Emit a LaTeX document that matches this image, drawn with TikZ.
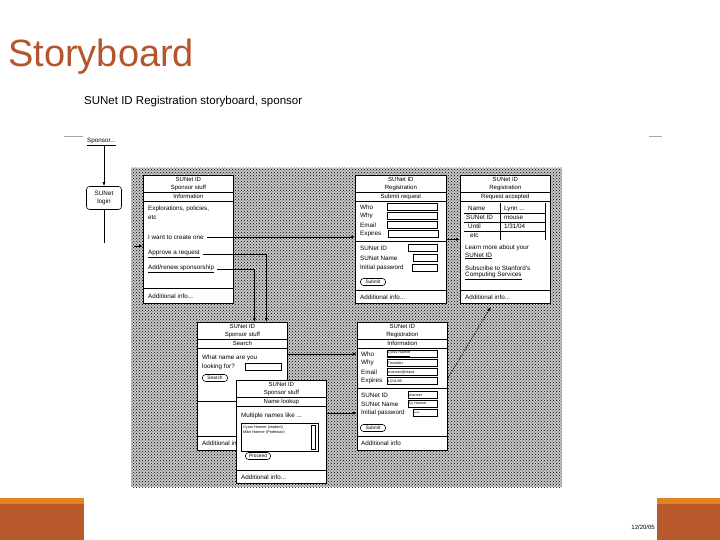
\documentclass[tikz,border=0pt]{standalone}
\usepackage{fontspec}
\setmainfont{Liberation Sans}
\usetikzlibrary{arrows.meta,patterns,positioning}

\definecolor{titlerust}{HTML}{B5552B}
\definecolor{barorange}{HTML}{E3821E}
\definecolor{barbrown}{HTML}{B95A2D}

\tikzset{
  panel/.style={draw, fill=white, line width=0.75pt, anchor=north west, inner sep=0pt},
  head/.style={font=\fontsize{6}{6.5}\selectfont, inner sep=0pt, text height=4.2pt, text depth=1.2pt},
  ptxt/.style={font=\fontsize{6.3}{7}\selectfont, inner sep=0pt, anchor=west},
  fieldbox/.style={draw, line width=0.55pt, anchor=west, inner sep=0.6pt, text width=#1,
    minimum height=6.5pt, align=left, font=\fontsize{3.6}{4}\selectfont},
  button/.style={draw, rounded corners=3pt, line width=0.55pt, inner sep=0.5pt,
    minimum width=25pt, minimum height=7pt, font=\fontsize{4.8}{5}\selectfont},
  link/.style={line width=0.65pt, -{Latex[length=4pt,width=3pt]}},
}

% three title lines and two rules at the top of a panel
\newcommand{\panelhead}[4]{%
  \node[head, below=2.3pt of #1.north] (#1h1) {#2};
  \node[head, below=1.6pt of #1h1] (#1h2) {#3};
  \node[head, below=3.3pt of #1h2] (#1h3) {#4};
  \draw ([yshift=1.6pt]#1h3.north -| #1.west) -- ([yshift=1.6pt]#1h3.north -| #1.east);
  \draw ([yshift=-1.8pt]#1h3.south -| #1.west) -- ([yshift=-1.8pt]#1h3.south -| #1.east);
}

\begin{document}
\begin{tikzpicture}[x=1pt, y=-1pt]
  \useasboundingbox (0,0) rectangle (720,540);

  % Slide title and footer
  \node[anchor=base west, inner sep=0pt, text=titlerust, font=\fontsize{38}{40}\selectfont] (title) at (8,67) {Storyboard};
  \fill[barorange] (0,498) rectangle (84,504);
  \fill[barbrown] (0,504) rectangle (84,540);
  \fill[barorange] (657,498) rectangle (720,504);
  \fill[barbrown] (657,504) rectangle (720,540);
  \node[anchor=east, inner sep=0pt, font=\fontsize{6}{7}\selectfont] (date) at (655,527) {12/20/05};

  % Page heading
  \node[anchor=base west, inner sep=0pt, font=\fontsize{11.5}{13}\selectfont] (subtitle) at (84,105) {SUNet ID Registration storyboard, sponsor};
  \draw[gray!70, line width=0.8pt] (64,136) -- (83,136);
  \draw[gray!70, line width=0.8pt] (649,136) -- (662,136);

  % Entry point
  \node[ptxt] (sponsor) at (87,142) {\underline{Sponsor...}};
  \node[draw, rounded corners=3pt, line width=0.6pt, minimum width=35pt, minimum height=23pt,
    align=center, inner sep=0pt, font=\fontsize{6.3}{7.5}\selectfont] (login) at (104,198) {SUNet\\login};
  \draw[link] (sponsor.south -| login.north) -- (login.north);
  \coordinate (loginend) at (104,243);
  \draw[line width=0.6pt] (login.south) -- (loginend);
  \coordinate (stub) at (134,246);

  % Dotted page background
  \fill[black!22] (131,168) rectangle (562,487);
  \fill[pattern=crosshatch dots, pattern color=black] (131,168) rectangle (562,487);

  %% Panel A: sponsor information
  \node[panel, minimum width=90pt, minimum height=128pt] (pA) at (143,175) {};
  \panelhead{pA}{SUNet ID}{Sponsor stuff}{Information}
  \node[ptxt] (explA) at (148,209) {Explorations, policies,};
  \node[ptxt] (etcA) at (148,217) {etc};
  \node[ptxt] (iwant) at (148,237) {I want to create one};
  \node[ptxt] (approve) at (148,254) {\underline{Approve a request}};
  \node[ptxt] (addrenew) at (148,269) {\underline{Add/renew sponsorship}};
  \draw (pA.west |- 0,288) -- (pA.east |- 0,288);
  \node[ptxt] (addA) at (148,296) {Additional info...};
  \draw[link] (stub) -- (stub -| pA.west);

  %% Panel B: submit request
  \node[panel, minimum width=91pt, minimum height=128pt] (pB) at (355,175) {};
  \panelhead{pB}{SUNet ID}{Registration}{Submit request}
  \node[ptxt] (whoB) at (360,207) {Who};
  \node[ptxt] (whyB) at (360,216) {Why};
  \node[ptxt] (mailB) at (360,225) {Email};
  \node[ptxt] (expB) at (360,234) {Expires};
  \node[fieldbox=49pt] (whoBf) at (387,207) {};
  \node[fieldbox=49pt] (whyBf) at (387,216) {};
  \node[fieldbox=49pt] (mailBf) at (387,225) {};
  \node[fieldbox=49pt] (expBf) at (388,234) {};
  \draw (pB.west |- 0,241) -- (pB.east |- 0,241);
  \node[ptxt] (idB) at (360,248) {SUNet ID};
  \node[ptxt] (nameB) at (360,258) {SUNet Name};
  \node[ptxt] (pwB) at (360,268) {Initial password};
  \node[fieldbox=28pt] (idBf) at (408,248) {};
  \node[fieldbox=23pt] (nameBf) at (413,258) {};
  \node[fieldbox=24pt] (pwBf) at (412,268) {};
  \node[button] (submitB) at (373,282) {Submit};
  \draw (pB.west |- 0,290) -- (pB.east |- 0,290);
  \node[ptxt] (addB) at (360,297) {Additional info...};

  %% Panel D: request accepted
  \node[panel, minimum width=90pt, minimum height=128pt] (pD) at (460,175) {};
  \panelhead{pD}{SUNet ID}{Registration}{Request accepted}
  \draw (464,213) -- (545,213);
  \draw (464,222) -- (545,222);
  \draw (464,231) -- (545,231);
  \draw (500,203) -- (500,240);
  \draw (545,203) -- (545,240);
  \node[ptxt] (nameD) at (468,208.5) {Name};
  \node[ptxt] (idD) at (466,217.5) {SUNet ID};
  \node[ptxt] (untilD) at (468,226.5) {Until};
  \node[ptxt] (etcD) at (470,235.5) {etc};
  \node[ptxt] (nameDv) at (504,208.5) {Lynn ...};
  \node[ptxt] (idDv) at (504,217.5) {mouse};
  \node[ptxt] (untilDv) at (504,226.5) {1/31/04};
  \node[ptxt] (learnD) at (465,248) {Learn more about your};
  \node[ptxt] (learnD2) at (465,256) {\underline{SUNet ID}};
  \node[ptxt] (subD) at (465,268) {Subscribe to Stanford's};
  \node[ptxt] (subD2) at (465,276) {\underline{Computing Services}};
  \draw (pD.west |- 0,290) -- (pD.east |- 0,290);
  \node[ptxt] (addD) at (465,297) {Additional info...};

  %% Panel C: sponsor search
  \node[panel, minimum width=90pt, minimum height=128pt] (pC) at (197,322) {};
  \panelhead{pC}{SUNet ID}{Sponsor stuff}{Search}
  \node[ptxt] (whatC) at (202,358) {What name are you};
  \node[ptxt] (lookC) at (202,367) {looking for?};
  \node[fieldbox=35pt] (lookCf) at (245,367) {};
  \node[button] (searchC) at (215,378) {Search};
  \draw (pC.west |- 0,401) -- (pC.east |- 0,401);
  \draw (pC.west |- 0,436) -- (pC.east |- 0,436);
  \node[ptxt] (addC) at (202,443) {Additional info...};

  %% Panel E: name lookup
  \node[panel, minimum width=90pt, minimum height=103pt] (pE) at (236,380) {};
  \panelhead{pE}{SUNet ID}{Sponsor stuff}{Name lookup}
  \node[ptxt] (multE) at (241,416) {Multiple names like ...};
  \draw[line width=0.55pt] (241,423) rectangle (318,451);
  \draw[line width=0.55pt] (311,425) rectangle (315,449);
  \node[anchor=north west, inner sep=0pt, align=left, font=\fontsize{3.8}{5}\selectfont] (listE) at (243,425.5)
    {Cyrus Harmer (student)\\Mike Harmer (Professor)};
  \node[button] (proceedE) at (258,456) {Proceed};
  \draw (pE.west |- 0,470) -- (pE.east |- 0,470);
  \node[ptxt] (addE) at (241,477) {Additional info...};

  %% Panel F: registration information
  \node[panel, minimum width=90pt, minimum height=128pt] (pF) at (357,322) {};
  \panelhead{pF}{SUNet ID}{Registration}{Information}
  \node[ptxt] (whoF) at (361,354) {Who};
  \node[ptxt] (whyF) at (361,363) {Why};
  \node[ptxt] (mailF) at (361,372) {Email};
  \node[ptxt] (expF) at (361,381) {Expires};
  \node[fieldbox=49pt] (whoFf) at (387,354) {\underline{Cyrus Harmer}};
  \node[fieldbox=49pt] (whyFf) at (387,363) {Tresidder};
  \node[fieldbox=49pt] (mailFf) at (387,372) {charmer@leland};
  \node[fieldbox=49pt] (expFf) at (387,381) {12/31/95};
  \draw (pF.west |- 0,388) -- (pF.east |- 0,388);
  \node[ptxt] (idF) at (361,395) {SUNet ID};
  \node[ptxt] (nameF) at (361,404) {SUNet Name};
  \node[ptxt] (pwF) at (361,413) {Initial password};
  \node[fieldbox=28pt] (idFf) at (408,395) {charmer};
  \node[fieldbox=28pt] (nameFf) at (408,404) {Cy Harmer};
  \node[fieldbox=23pt] (pwFf) at (413,413) {****};
  \node[button] (submitF) at (373,428) {Submit};
  \draw (pF.west |- 0,436) -- (pF.east |- 0,436);
  \node[ptxt] (addF) at (361,443) {Additional info};

  %% Connectors between screens
  \draw[link] ([xshift=3pt]iwant.east) -- (iwant.east -| pB.west);
  \draw[link] ([xshift=3pt]approve.east) -| ([xshift=24pt]pC.north);
  \draw[link] ([xshift=3pt]addrenew.east) -| ([xshift=12pt]pC.north);
  \draw[link] (pB.east) -- (pD.west);
  \draw[link] (whoF -| pC.east) -- (whoF -| pF.west);
  \draw[link] (pwF -| pE.east) -- (pwF -| pF.west);
  \draw[link, dash pattern=on 1.5pt off 1.2pt] ([yshift=8pt]pF.east) -- ([xshift=-14.5pt, yshift=-3pt]pD.south);
\end{tikzpicture}
\end{document}
